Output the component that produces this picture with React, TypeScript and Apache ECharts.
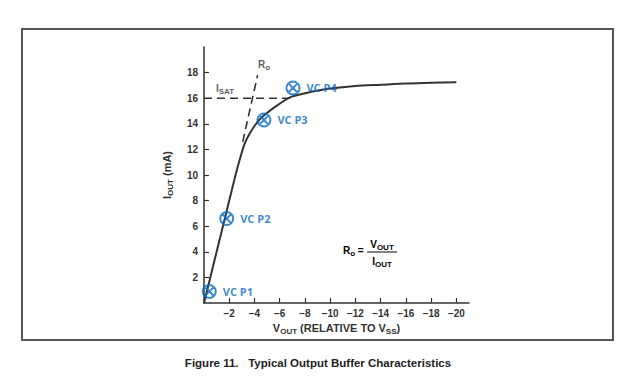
import React, { useEffect, useRef } from "react";
import * as echarts from "echarts";

// Output buffer curve: V_OUT (V, relative to V_SS) vs I_OUT (mA)
const vOut = [0, -0.5, -1, -1.5, -2, -2.5, -2.8, -3.2, -3.6, -4.2, -4.7, -5.6, -6.9, -8.5, -10, -12, -14, -16, -18, -20];
const iOut = [0, 2.0, 4.0, 6.0, 8.0, 10.0, 11.1, 12.4, 13.2, 14.1, 14.6, 15.3, 16.1, 16.5, 16.75, 16.95, 17.05, 17.15, 17.2, 17.25];

// Test points
const vcNames = ["VC P1", "VC P2", "VC P3", "VC P4"];
const vcV = [-0.42, -1.8, -4.75, -7.05];
const vcI = [0.9, 6.6, 14.3, 16.8];

// Guide lines
const isatV = [0, -6.9];
const isatI = [16, 16];
const roV = [-3.07, -4.25];
const roI = [12.6, 17.8];

// Ticks
const xTicks = [-2, -4, -6, -8, -10, -12, -14, -16, -18, -20];
const yTicks = [2, 4, 6, 8, 10, 12, 14, 16, 18];

const INK = "#333333";
const BLUE = "#0a6cc4";
const FONT = "Liberation Sans";

const markerPath =
  "path://M12,2A10,10,0,1,1,12,22A10,10,0,1,1,12,2ZM4.93,4.93L19.07,19.07M19.07,4.93L4.93,19.07";

export default function App() {
  const ref = useRef<HTMLDivElement>(null);

  useEffect(() => {
    if (!ref.current) return;
    const chart = echarts.init(ref.current, null, { renderer: "svg" });
    const sub = { fontSize: 8, fontWeight: "bold", fontFamily: FONT, color: INK, verticalAlign: "bottom", lineHeight: 12, padding: [0, 0, -1, 0] };
    const main = { fontSize: 11, fontWeight: "bold", fontFamily: FONT, color: INK, lineHeight: 12 };
    const main10 = { ...main, fontSize: 10 };
    chart.setOption({
      animation: false,
      backgroundColor: "#ffffff",
      grid: { left: 204, right: 171, top: 47, bottom: 81, containLabel: false },
      xAxis: {
        type: "value",
        min: -21,
        max: 0,
        inverse: true,
        splitLine: { show: false },
        axisLine: { onZero: false, lineStyle: { color: INK, width: 1.5 } },
        axisTick: { inside: true, length: 5, customValues: xTicks, lineStyle: { color: INK, width: 1.2 } },
        axisLabel: {
          customValues: xTicks,
          formatter: (v: number) => "\u2212" + Math.abs(v),
          color: INK,
          fontSize: 10,
          fontWeight: "bold",
          fontFamily: FONT,
          margin: 5,
        },
        name: "{m|V}{s|OUT}{m| (RELATIVE TO V}{s|SS}{m|)}",
        nameLocation: "middle",
        nameGap: 19,
        nameTextStyle: { rich: { m: main, s: sub } },
      },
      yAxis: {
        type: "value",
        min: 0,
        max: 20,
        splitLine: { show: false },
        axisLine: { onZero: false, lineStyle: { color: INK, width: 1.5 } },
        axisTick: { inside: true, length: 5, customValues: yTicks, lineStyle: { color: INK, width: 1.2 } },
        axisLabel: {
          customValues: yTicks,
          color: INK,
          fontSize: 10,
          fontWeight: "bold",
          fontFamily: FONT,
          margin: 6,
        },
        name: "{m|I}{s|OUT}{m| (mA)}",
        nameLocation: "middle",
        nameGap: 31,
        nameTextStyle: { rich: { m: main, s: sub } },
      },
      series: [
        {
          type: "line",
          data: vOut.map((v, i) => [v, iOut[i]]),
          smooth: 0.25,
          symbol: "none",
          lineStyle: { color: INK, width: 2 },
          z: 3,
        },
        {
          type: "line",
          data: isatV.map((v, i) => [v, isatI[i]]),
          symbol: "none",
          lineStyle: { color: INK, width: 1.6, type: [8, 5] },
          z: 2,
        },
        {
          type: "line",
          data: roV.map((v, i) => [v, roI[i]]),
          symbol: "none",
          lineStyle: { color: INK, width: 1.6, type: [8, 5] },
          z: 2,
        },
        {
          type: "scatter",
          data: [
            { value: [-0.95, 16.75], name: "{m|I}{s|SAT}" },
            { value: [-4.28, 18.6], name: "{m|R}{s|o}" },
          ],
          symbolSize: 0,
          silent: true,
          label: {
            show: true,
            position: "right",
            distance: 0,
            formatter: "{b}",
            rich: { m: main10, s: sub },
          },
          z: 4,
        },
        {
          type: "scatter",
          data: vcV.map((v, i) => ({ value: [v, vcI[i]], name: vcNames[i] })),
          symbol: markerPath,
          symbolSize: 13,
          itemStyle: { color: "rgba(0,0,0,0)", borderColor: BLUE, borderWidth: 2 },
          label: {
            show: true,
            position: "right",
            distance: 6,
            formatter: "{b}",
            color: BLUE,
            fontSize: 11,
            fontWeight: "bold",
            fontFamily: "Open Sans",
          },
          z: 5,
        },
      ],
      graphic: [
        {
          type: "rect",
          shape: { x: 22, y: 29, width: 591, height: 311 },
          style: { fill: "none", stroke: "#555555", lineWidth: 2 },
        },
        {
          type: "text",
          x: 343,
          y: 250,
          style: {
            text: "{m|R}{s|o}{m| =}",
            rich: { m: main10, s: sub },
            verticalAlign: "middle",
          },
        },
        {
          type: "text",
          x: 382,
          y: 244,
          style: {
            text: "{m|V}{s|OUT}",
            rich: { m: main10, s: sub },
            align: "center",
            verticalAlign: "middle",
          },
        },
        {
          type: "line",
          shape: { x1: 367, y1: 252, x2: 397, y2: 252 },
          style: { stroke: INK, lineWidth: 1.2 },
        },
        {
          type: "text",
          x: 382,
          y: 261,
          style: {
            text: "{m|I}{s|OUT}",
            rich: { m: main10, s: sub },
            align: "center",
            verticalAlign: "middle",
          },
        },
        {
          type: "text",
          x: 318,
          y: 363,
          style: {
            text: "Figure 11.   Typical Output Buffer Characteristics",
            fill: "#222222",
            font: "bold 11.5px 'Liberation Sans'",
            align: "center",
            verticalAlign: "middle",
          },
        },
      ],
    });
    return () => chart.dispose();
  }, []);

  return (
    <div
      ref={ref}
      style={{ position: "fixed", left: 0, top: 0, width: 640, height: 384 }}
    />
  );
}
